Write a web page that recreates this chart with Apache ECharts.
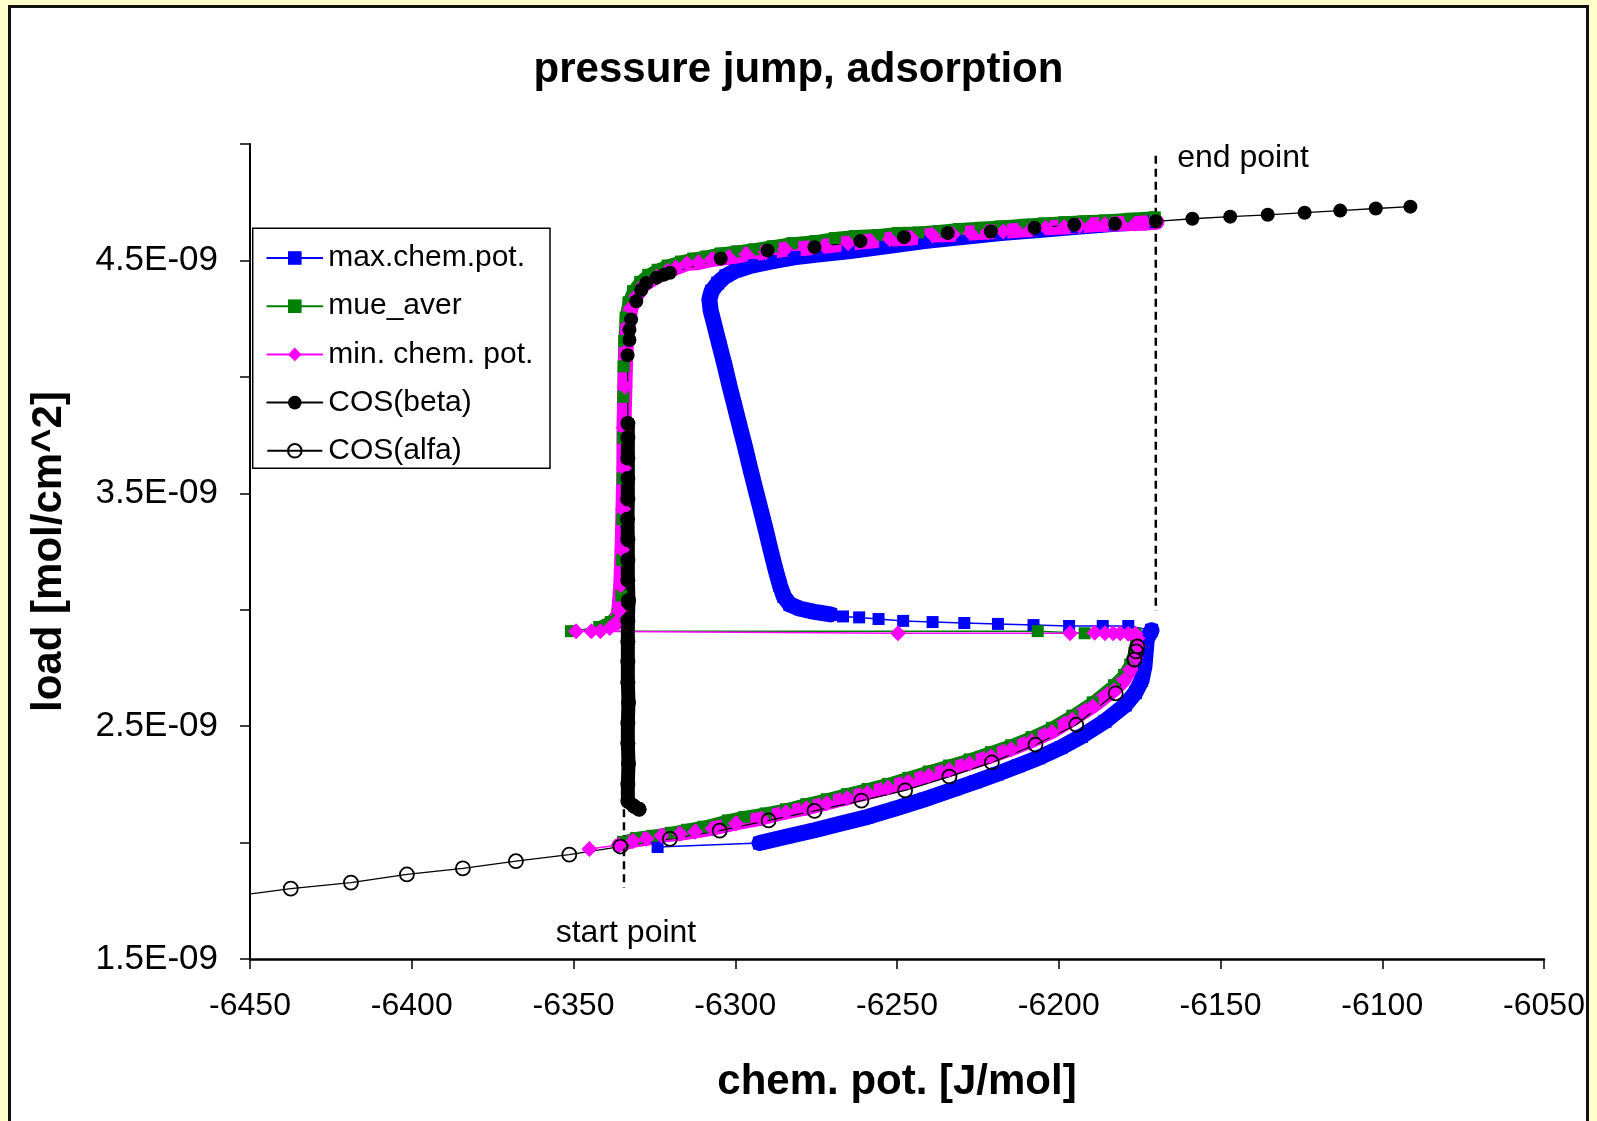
<!DOCTYPE html>
<html>
<head>
<meta charset="utf-8">
<title>pressure jump, adsorption</title>
<script src="https://cdn.jsdelivr.net/npm/echarts@6/dist/echarts.min.js"></script>
<style>
  html, body { margin: 0; padding: 0; width: 1597px; height: 1121px; overflow: hidden; background: #FFFFCC; }
  #frame { position: absolute; left: 8px; top: 5px; width: 1581px; height: 1200px; box-sizing: border-box;
           border: 3px solid #111; background: #fff; }
  #chart { position: absolute; left: 0; top: 0; width: 1597px; height: 1121px; }
</style>
</head>
<body>
<div id="frame"></div>
<div id="chart"></div>
<script>
// x: chemical potential [J/mol], y: load in units of 1E-09 mol/cm^2

// axis ranges
const X_MIN = -6450, X_MAX = -6050, X_STEP = 50;
const Y_MIN = 1.5, Y_MAX = 5.0, Y_STEP = 0.5;
const yLabelled = [1.5, 2.5, 3.5, 4.5];

// max.chem.pot.
const maxLead = [[-6324.0, 1.981], [-6292.5, 1.998]];
const maxLower = [[-6292.5, 1.998], [-6284.3, 2.025], [-6275.5, 2.053], [-6267.3, 2.082], [-6259.1, 2.110],
  [-6250.3, 2.147], [-6241.5, 2.186], [-6232.4, 2.229], [-6225.7, 2.261], [-6219.1, 2.295], [-6212.5, 2.330],
  [-6206.2, 2.364], [-6199.3, 2.408], [-6193.0, 2.456], [-6185.7, 2.521], [-6179.4, 2.591], [-6176.3, 2.644],
  [-6174.4, 2.696], [-6173.5, 2.758], [-6173.1, 2.821], [-6172.8, 2.873], [-6171.3, 2.912]];
const maxFlat = [[-6171.3, 2.912], [-6178.5, 2.930], [-6186.4, 2.930], [-6196.8, 2.930], [-6207.8, 2.934],
  [-6218.8, 2.939], [-6229.2, 2.943], [-6239.0, 2.947], [-6248.1, 2.952], [-6255.7, 2.960], [-6261.7, 2.967],
  [-6266.7, 2.971], [-6270.5, 2.980]];
const maxRise = [[-6270.5, 2.980], [-6275.5, 2.991], [-6279.9, 3.004], [-6283.1, 3.022], [-6285.0, 3.057],
  [-6286.2, 3.105], [-6287.5, 3.170], [-6289.1, 3.258], [-6290.6, 3.345], [-6292.2, 3.433], [-6293.8, 3.520],
  [-6295.4, 3.608], [-6296.9, 3.695], [-6298.5, 3.782], [-6300.1, 3.870], [-6301.7, 3.957], [-6303.2, 4.045],
  [-6304.8, 4.132], [-6306.4, 4.220], [-6307.6, 4.285], [-6308.0, 4.333], [-6307.3, 4.368], [-6305.4, 4.403],
  [-6302.9, 4.434], [-6299.8, 4.456], [-6295.0, 4.478], [-6289.1, 4.495], [-6281.8, 4.513], [-6273.9, 4.526],
  [-6265.1, 4.539], [-6253.5, 4.561], [-6241.5, 4.583], [-6229.8, 4.600], [-6217.9, 4.618], [-6206.2, 4.631],
  [-6194.3, 4.644], [-6182.6, 4.657], [-6170.6, 4.666]];

// mue_aver
const mueLower = [[-6334.7, 2.003], [-6330.6, 2.020], [-6325.6, 2.029], [-6319.9, 2.042], [-6314.9, 2.055],
  [-6309.8, 2.068], [-6302.3, 2.095], [-6297.2, 2.110], [-6290.6, 2.125], [-6284.3, 2.143], [-6278.0, 2.165],
  [-6271.7, 2.186], [-6265.4, 2.208], [-6259.1, 2.230], [-6252.8, 2.252], [-6246.5, 2.278], [-6240.2, 2.305],
  [-6233.9, 2.331], [-6227.6, 2.357], [-6221.0, 2.388], [-6214.7, 2.418], [-6208.4, 2.453], [-6202.1, 2.493],
  [-6195.8, 2.545], [-6189.5, 2.602], [-6182.9, 2.676], [-6179.8, 2.720], [-6177.9, 2.764], [-6176.6, 2.816],
  [-6176.0, 2.860], [-6176.3, 2.895]];
const mueFlat = [[-6176.3, 2.895], [-6192.0, 2.899], [-6206.5, 2.908], [-6350.8, 2.908], [-6342.0, 2.925]];
const mueRise = [[-6342.0, 2.925], [-6338.5, 2.947], [-6336.3, 2.982], [-6335.2, 3.061], [-6335.0, 3.214],
  [-6334.9, 3.389], [-6334.8, 3.564], [-6334.7, 3.739], [-6334.6, 3.914], [-6334.5, 4.045], [-6334.3, 4.154],
  [-6333.9, 4.255], [-6333.0, 4.320], [-6331.6, 4.368], [-6329.4, 4.408], [-6326.9, 4.438], [-6324.0, 4.460],
  [-6320.9, 4.478], [-6316.8, 4.495], [-6313.0, 4.508], [-6308.9, 4.517], [-6304.5, 4.530], [-6299.4, 4.539],
  [-6294.1, 4.548], [-6288.4, 4.561], [-6282.4, 4.574], [-6275.2, 4.583], [-6269.2, 4.596], [-6262.9, 4.605],
  [-6255.7, 4.609], [-6249.7, 4.618], [-6243.4, 4.620], [-6237.1, 4.626], [-6230.8, 4.635], [-6224.2, 4.640],
  [-6217.9, 4.646], [-6210.6, 4.653], [-6204.6, 4.659], [-6198.3, 4.664], [-6192.0, 4.668], [-6185.7, 4.672],
  [-6177.9, 4.679], [-6170.3, 4.685]];

// min. chem. pot.
const minLead = [[-6345.1, 1.972], [-6336.0, 1.990]];
const minLower = [[-6336.0, 1.990], [-6331.6, 2.007], [-6327.5, 2.016], [-6322.8, 2.029], [-6317.1, 2.038],
  [-6312.4, 2.047], [-6307.0, 2.060], [-6299.8, 2.082], [-6291.9, 2.103], [-6284.3, 2.130], [-6278.0, 2.147],
  [-6271.7, 2.169], [-6265.4, 2.191], [-6259.1, 2.213], [-6252.8, 2.235], [-6246.5, 2.261], [-6240.2, 2.287],
  [-6233.9, 2.313], [-6227.6, 2.340], [-6221.0, 2.370], [-6214.7, 2.401], [-6208.4, 2.436], [-6202.1, 2.475],
  [-6195.8, 2.528], [-6189.5, 2.584], [-6182.9, 2.654], [-6179.8, 2.698], [-6177.9, 2.742], [-6176.3, 2.794],
  [-6175.4, 2.842], [-6175.7, 2.877], [-6176.3, 2.895]];
const minFlat = [[-6176.3, 2.895], [-6178.5, 2.897], [-6181.0, 2.899], [-6183.2, 2.899], [-6185.7, 2.899],
  [-6188.9, 2.901], [-6196.5, 2.899], [-6249.7, 2.899], [-6349.2, 2.908], [-6344.5, 2.908], [-6341.7, 2.908],
  [-6338.8, 2.921], [-6336.9, 2.943]];
const minRise = [[-6336.9, 2.943], [-6336.0, 2.995], [-6335.4, 3.105], [-6335.0, 3.258], [-6334.7, 3.433],
  [-6334.4, 3.608], [-6334.4, 3.782], [-6334.1, 3.957], [-6333.8, 4.110], [-6333.2, 4.220], [-6332.2, 4.298],
  [-6330.6, 4.347], [-6328.4, 4.395], [-6324.3, 4.430], [-6320.9, 4.456], [-6318.3, 4.469], [-6314.9, 4.487],
  [-6311.4, 4.491], [-6307.3, 4.504], [-6302.0, 4.513], [-6296.6, 4.526], [-6290.6, 4.535], [-6284.6, 4.548],
  [-6278.3, 4.552], [-6272.4, 4.561], [-6265.1, 4.574], [-6258.2, 4.583], [-6252.2, 4.591], [-6245.6, 4.596],
  [-6239.0, 4.609], [-6232.7, 4.611], [-6227.3, 4.618], [-6222.0, 4.622], [-6217.2, 4.624], [-6213.1, 4.629],
  [-6208.7, 4.633], [-6204.0, 4.640], [-6198.3, 4.644], [-6193.6, 4.648], [-6189.8, 4.653], [-6185.7, 4.655],
  [-6181.0, 4.657], [-6176.3, 4.659], [-6173.1, 4.661], [-6169.7, 4.664]];

// COS(beta)
const betaUpper = [[-6333.2, 3.800], [-6333.3, 4.093], [-6332.7, 4.158], [-6332.7, 4.202], [-6332.2, 4.246],
  [-6330.6, 4.325], [-6329.1, 4.373], [-6327.5, 4.403], [-6324.3, 4.426], [-6322.1, 4.438], [-6320.2, 4.447],
  [-6304.5, 4.508], [-6290.0, 4.543], [-6275.5, 4.557], [-6261.3, 4.583], [-6247.8, 4.600], [-6234.3, 4.618],
  [-6221.0, 4.624], [-6207.5, 4.640], [-6195.2, 4.653], [-6182.6, 4.657], [-6170.0, 4.668], [-6158.7, 4.679],
  [-6147.0, 4.688], [-6135.4, 4.696], [-6124.0, 4.705], [-6113.0, 4.714], [-6102.0, 4.723], [-6091.3, 4.731]];
const betaColumn = [[-6329.7, 2.143], [-6331.3, 2.156], [-6333.2, 2.178], [-6333.2, 2.252], [-6333.0, 2.340],
  [-6333.2, 2.427], [-6333.2, 2.514], [-6333.0, 2.602], [-6333.2, 2.689], [-6333.2, 2.777], [-6333.2, 2.864],
  [-6333.2, 2.952], [-6333.0, 3.039], [-6333.2, 3.127], [-6333.2, 3.214], [-6333.2, 3.301], [-6333.3, 3.389],
  [-6333.2, 3.476], [-6333.2, 3.564], [-6333.2, 3.651], [-6333.2, 3.739], [-6333.2, 3.800]];

// COS(alfa)
const alfaPoints = [[-6456.0, 1.768], [-6437.4, 1.802], [-6418.8, 1.828], [-6401.5, 1.863], [-6384.2, 1.889],
  [-6367.8, 1.920], [-6351.3, 1.948], [-6335.5, 1.983], [-6320.2, 2.016], [-6304.8, 2.051], [-6289.7, 2.095],
  [-6275.5, 2.136], [-6261.0, 2.180], [-6247.5, 2.224], [-6233.8, 2.283], [-6220.7, 2.344], [-6207.2, 2.420],
  [-6194.6, 2.506], [-6182.4, 2.641], [-6176.6, 2.786], [-6176.1, 2.821], [-6175.7, 2.842]];

// start / end markers and their captions
const startMarker = [[-6334.4, 2.143], [-6334.4, 1.806]];
const endMarker = [[-6170.0, 4.950], [-6170.0, 2.995]];
const captionText = ['start point', 'end point'];
const captionAt = [[-6355.5, 1.609], [-6163.4, 4.941]];

const seriesNames = ['max.chem.pot.', 'mue_aver', 'min. chem. pot.', 'COS(beta)', 'COS(alfa)'];

const FONT = '"Liberation Sans", Arial, Helvetica, sans-serif';
const BLUE = '#0000FF', GREEN = '#008000', PINK = '#FF00FF', BLACK = '#000000';

function track(name, data, color, symbol, size, width) {
  return {
    type: 'line', name: name, data: data, silent: true, animation: false,
    symbol: symbol, symbolSize: size, showSymbol: true, clip: true,
    itemStyle: { color: color },
    lineStyle: { color: color, width: width, cap: 'round', join: 'round' },
    emphasis: { disabled: true }
  };
}

const series = [
  // thin connecting runs come first so that the legend takes its icon from them
  track(seriesNames[0], maxLead, BLUE, 'rect', 12, 1.5),
  track(seriesNames[0], maxLower, BLUE, 'rect', 13, 16),
  track(seriesNames[0], maxFlat, BLUE, 'rect', 12, 1.5),
  track(seriesNames[0], maxRise, BLUE, 'rect', 13, 16),

  track(seriesNames[1], mueFlat, GREEN, 'rect', 12, 1.5),
  track(seriesNames[1], mueLower, GREEN, 'rect', 12, 12),
  track(seriesNames[1], mueRise, GREEN, 'rect', 12, 12),

  track(seriesNames[2], minLead, PINK, 'diamond', 16, 1.5),
  track(seriesNames[2], minLower, PINK, 'diamond', 16, 14),
  track(seriesNames[2], minFlat, PINK, 'diamond', 16, 1.5),
  track(seriesNames[2], minRise, PINK, 'diamond', 16, 15),

  track(seriesNames[3], betaUpper, BLACK, 'circle', 14, 1.3),
  track(seriesNames[3], betaColumn, BLACK, 'circle', 15, 14),

  {
    type: 'line', name: seriesNames[4], data: alfaPoints, silent: true, animation: false,
    symbol: 'circle', symbolSize: 14, showSymbol: true, clip: true,
    itemStyle: { color: 'rgba(0,0,0,0)', borderColor: BLACK, borderWidth: 1.8 },
    lineStyle: { color: BLACK, width: 1.3 },
    emphasis: { disabled: true }
  },

  // dashed guides at the start and end points
  {
    type: 'line', name: 'startGuide', data: startMarker, symbol: 'none', silent: true, animation: false,
    lineStyle: { color: BLACK, width: 2.5, type: [8, 5] }, emphasis: { disabled: true }
  },
  {
    type: 'line', name: 'endGuide', data: endMarker, symbol: 'none', silent: true, animation: false,
    lineStyle: { color: BLACK, width: 2.5, type: [8, 5] }, emphasis: { disabled: true }
  }
];

const chart = echarts.init(document.getElementById('chart'), null, { renderer: 'canvas' });
const legendBox = {
  type: 'rect', id: 'legendBox', z: 3, silent: true,
  shape: { x: 252.7, y: 228.3, width: 297.3, height: 240 },
  style: { fill: '#fff', stroke: BLACK, lineWidth: 1.5 }
};
chart.setOption({
  backgroundColor: 'transparent',
  animation: false,
  textStyle: { fontFamily: FONT, color: BLACK },
  title: {
    text: 'pressure jump, adsorption', left: 'center', top: 44,
    textStyle: { fontFamily: FONT, fontSize: 42, fontWeight: 'bold', color: BLACK }
  },
  grid: { left: 250, top: 144, width: 1294, height: 815, containLabel: false, outerBoundsMode: 'none' },
  xAxis: {
    type: 'value', min: X_MIN, max: X_MAX, interval: X_STEP,
    name: 'chem. pot. [J/mol]', nameLocation: 'middle', nameGap: 102,
    nameTextStyle: { fontFamily: FONT, fontSize: 42, fontWeight: 'bold', color: BLACK },
    axisLine: { show: true, onZero: false, lineStyle: { color: BLACK, width: 2.5 } },
    axisTick: { show: true, inside: false, length: 10, lineStyle: { color: BLACK, width: 1.5 } },
    axisLabel: { margin: 31, fontFamily: FONT, fontSize: 32, color: BLACK,
      formatter: function (v) { return String(v); } },
    splitLine: { show: false }
  },
  yAxis: {
    type: 'value', min: Y_MIN, max: Y_MAX, interval: Y_STEP,
    name: 'load [mol/cm^2]', nameLocation: 'middle', nameGap: 180,
    nameTextStyle: { fontFamily: FONT, fontSize: 42, fontWeight: 'bold', color: BLACK },
    axisLine: { show: true, onZero: false, lineStyle: { color: BLACK, width: 2 } },
    axisTick: { show: true, inside: false, length: 10, lineStyle: { color: BLACK, width: 1.5 } },
    axisLabel: { margin: 32, fontFamily: FONT, fontSize: 35, color: BLACK,
      formatter: function (v) {
        const hit = yLabelled.some(function (t) { return Math.abs(t - v) < 1e-6; });
        return hit ? v.toFixed(1) + 'E-09' : '';
      } },
    splitLine: { show: false }
  },
  legend: {
    data: seriesNames, orient: 'vertical', left: 253, top: 228,
    padding: [15, 0, 6, 13.3], itemWidth: 55, itemHeight: 17, itemGap: 18.2,
    selectedMode: false,
    textStyle: { fontFamily: FONT, fontSize: 30, color: BLACK, lineHeight: 24, padding: [0, 0, 0, 1] }
  },
  graphic: [legendBox],
  series: series
});

// captions placed at their data coordinates through the grid's scales
const captions = captionText.map(function (txt, i) {
  const p = chart.convertToPixel({ gridIndex: 0 }, captionAt[i]);
  return {
    type: 'text', id: 'caption' + i, z: 10, silent: true, x: p[0], y: p[1],
    style: { text: txt, fill: BLACK, font: '32px ' + FONT, textAlign: 'left', textVerticalAlign: 'middle' }
  };
});
chart.setOption({ graphic: [legendBox].concat(captions) });
</script>
</body>
</html>
